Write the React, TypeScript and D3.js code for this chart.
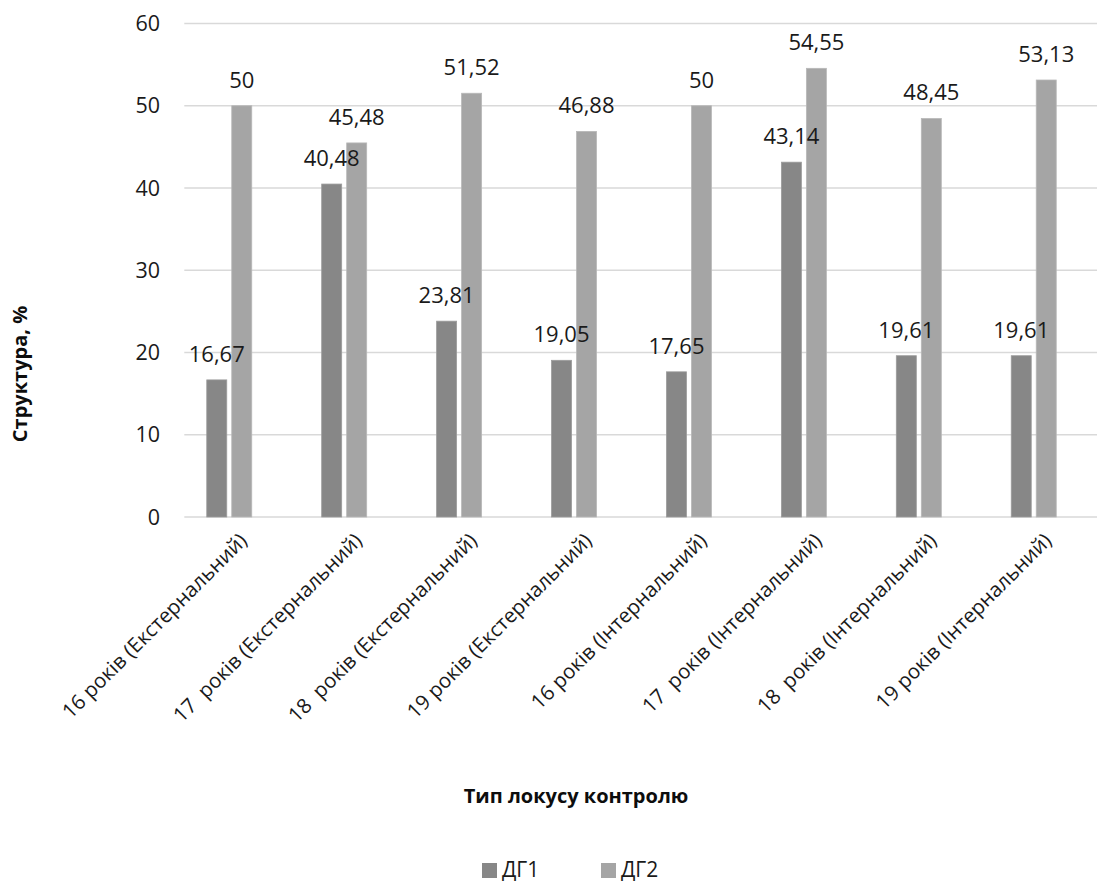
import React from "react";
import * as d3 from "d3";

const categories = [
  "16 років (Екстернальний)",
  "17  років (Екстернальний)",
  "18  років (Екстернальний)",
  "19 років (Екстернальний)",
  "16 років (Інтернальний)",
  "17  років (Інтернальний)",
  "18  років (Інтернальний)",
  "19 років (Інтернальний)",
];
const seriesNames = ["ДГ1", "ДГ2"];
const dg1 = [16.67, 40.48, 23.81, 19.05, 17.65, 43.14, 19.61, 19.61];
const dg2 = [50, 45.48, 51.52, 46.88, 50, 54.55, 48.45, 53.13];
const yTicks = [0, 10, 20, 30, 40, 50, 60];
const colors = ["#878787", "#a5a5a5"];
const strokes = ["#9c9c9c", "#b8b8b8"];

const W = 1097;
const H = 884;
const FONT = "'Open Sans', sans-serif";

export default function App() {
  const x = d3.scaleBand<string>().domain(categories).range([171.8, 1091.2]).padding(0);
  const xs = d3.scaleBand<string>().domain(seriesNames).range([-22.5, 22.5]).paddingInner(0.2);
  const y = d3.scaleLinear().domain([0, 60]).range([517, 23.5]);
  const values = [dg1, dg2];
  const fmt = (v: number) => String(v).replace(".", ",");
  const gridX0 = 184.3;
  const gridX1 = 1097;
  const barX = (si: number, i: number) =>
    (x(categories[i]) as number) + x.bandwidth() / 2 + (xs(seriesNames[si]) as number);

  return (
    <svg width={W} height={H} style={{ position: "absolute", left: 0, top: 0, background: "#fff" }} fontFamily={FONT}>
      <rect x={0} y={0} width={W} height={H} fill="#fff" />
      {yTicks.map((t) => (
        <g key={t}>
          <line x1={gridX0} x2={gridX1} y1={y(t)} y2={y(t)} stroke="#d9d9d9" strokeWidth={1.4} />
          <text x={160} y={y(t)} dy="0.36em" textAnchor="end" fontSize={21.5} fill="#1a1a1a">
            {t}
          </text>
        </g>
      ))}
      {values.map((vals, si) =>
        vals.map((v, i) => (
          <rect
            key={`b${si}-${i}`}
            x={barX(si, i)}
            y={y(v)}
            width={xs.bandwidth()}
            height={y(0) - y(v)}
            fill={colors[si]}
            stroke={strokes[si]}
            strokeWidth={0.8}
          />
        ))
      )}
      {values.map((vals, si) =>
        vals.map((v, i) => (
          <text
            key={`l${si}-${i}`}
            x={barX(si, i) + xs.bandwidth() / 2}
            y={y(v) - 18}
            textAnchor="middle"
            fontSize={22}
            fill="#1a1a1a"
          >
            {fmt(v)}
          </text>
        ))
      )}
      {categories.map((c) => {
        const cx = (x(c) as number) + x.bandwidth() / 2;
        return (
          <text
            key={c}
            transform={`translate(${cx + 14},${537}) rotate(-45)`}
            textAnchor="end"
            dy="0.35em"
            fontSize={20.5}
            fill="#1a1a1a"
            style={{ whiteSpace: "pre" }}
          >
            {c}
          </text>
        );
      })}
      <text x={576} y={803} textAnchor="middle" fontSize={20} fontWeight="bold" fill="#0d0d0d">
        Тип локусу контролю
      </text>
      <text transform="translate(27,374) rotate(-90)" textAnchor="middle" fontSize={20} fontWeight="bold" fill="#0d0d0d">
        Структура, %
      </text>
      {seriesNames.map((s, i) => {
        const lx = [482, 601][i];
        return (
          <g key={s}>
            <rect x={lx} y={863} width={15} height={15} fill={colors[i]} />
            <text x={lx + 20} y={877} fontSize={21} fill="#1a1a1a">
              {s}
            </text>
          </g>
        );
      })}
    </svg>
  );
}
